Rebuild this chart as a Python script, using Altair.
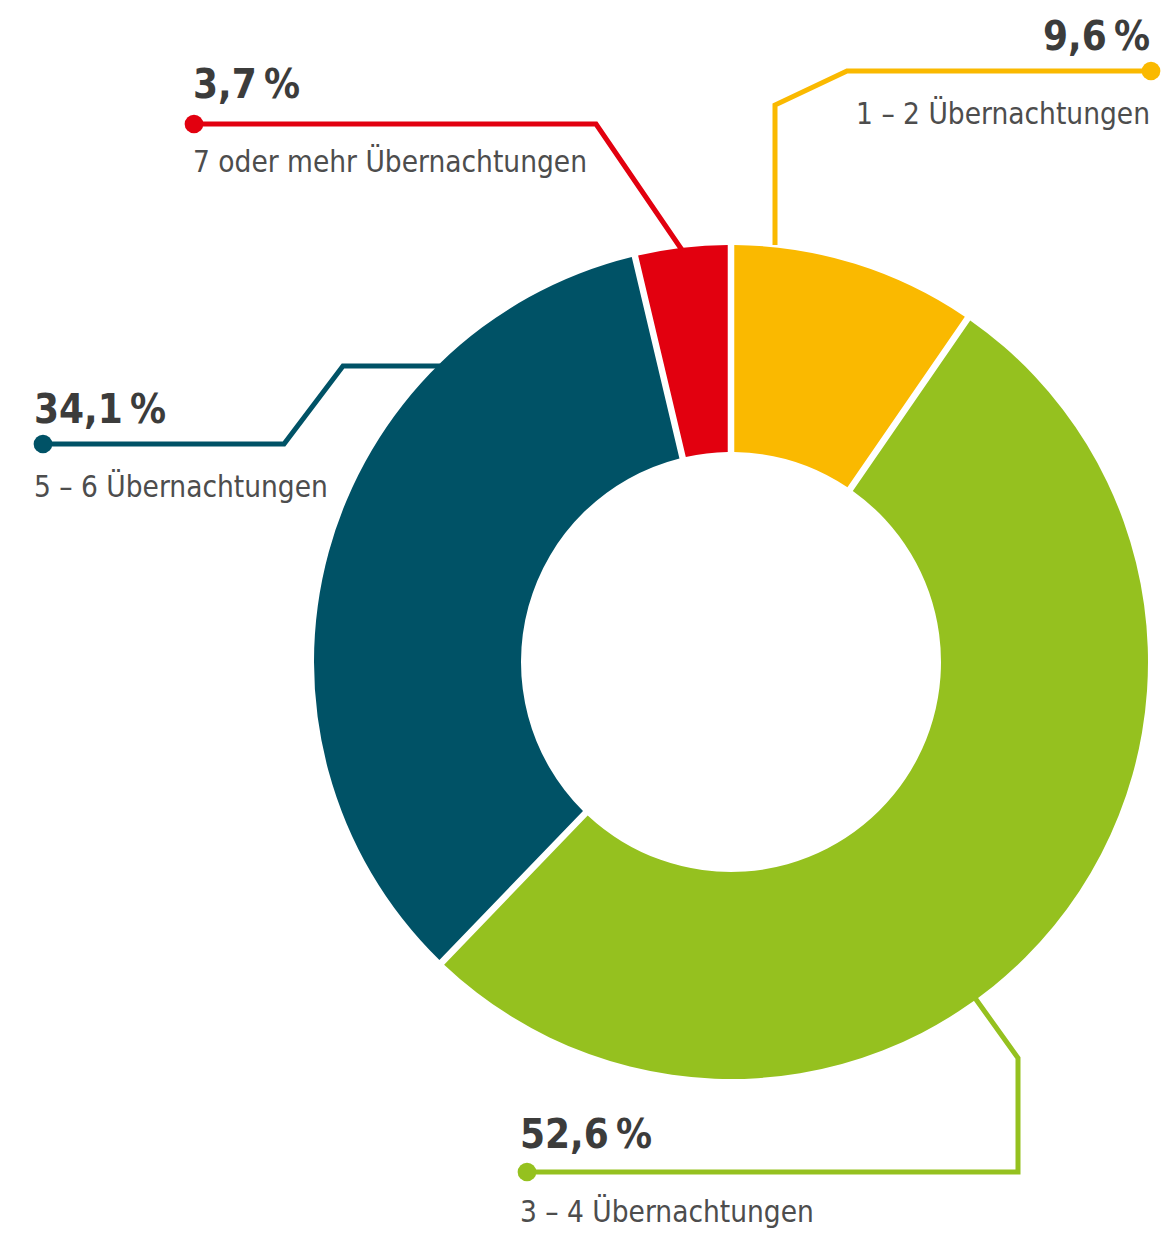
import altair as alt
import pandas as pd

# ---- data -------------------------------------------------------------
categories = ["1 – 2 Übernachtungen", "3 – 4 Übernachtungen",
              "5 – 6 Übernachtungen", "7 oder mehr Übernachtungen"]
shares = [9.6, 52.6, 34.1, 3.7]
share_labels = ["9,6\u2009%", "52,6\u2009%", "34,1\u2009%", "3,7\u2009%"]
colors = ["#FAB900", "#95C11F", "#005266", "#E2000F"]

# leader-line annotation paths (plot pixel coords, origin top-left)
leader_1_2 = [(767, 237), (767, 97), (839, 63), (1143, 63)]
leader_3_4 = [(967, 990), (1010, 1050), (1010, 1164), (519, 1164)]
leader_5_6 = [(432, 358), (335, 358), (276, 436), (35, 436)]
leader_7 = [(674, 242), (588, 116), (186, 116)]
leaders = [leader_1_2, leader_3_4, leader_5_6, leader_7]

# label anchor positions: (x, baseline of percent, baseline of name, align)
label_pos = [(1142, 42, 116, "right"), (512, 1140, 1214, "left"),
             (26, 415, 489, "left"), (185, 90, 164, "left")]

W, H = 1160, 1231
CX, CY = 723, 654

# ---- frames -----------------------------------------------------------
pie_df = pd.DataFrame({"cat": categories, "share": shares,
                       "order": list(range(len(categories)))})

line_rows = []
dot_rows = []
for cat, pts in zip(categories, leaders):
    for i, (x, y) in enumerate(pts):
        line_rows.append({"cat": cat, "x": x, "y": y, "i": i})
    dot_rows.append({"cat": cat, "x": pts[-1][0], "y": pts[-1][1]})
line_df = pd.DataFrame(line_rows)
dot_df = pd.DataFrame(dot_rows)

txt_rows = []
for cat, lab, (x, yb1, yb2, al) in zip(categories, share_labels, label_pos):
    txt_rows.append({"cat": cat, "t": lab, "x": x, "y": yb1, "kind": "pct", "al": al})
    txt_rows.append({"cat": cat, "t": cat, "x": x, "y": yb2, "kind": "name", "al": al})
txt_df = pd.DataFrame(txt_rows)

color_scale = alt.Scale(domain=categories, range=colors)
xs = alt.Scale(domain=[0, W], range=[0, W])
ys = alt.Scale(domain=[0, H], range=[0, H])

FONT = "DejaVu Sans Condensed, Liberation Sans Narrow, Noto Sans, sans-serif"

arc = alt.Chart(pie_df).mark_arc(
    outerRadius=417, innerRadius=210, padAngle=0.014
).encode(
    theta=alt.Theta("share:Q", stack=True),
    order=alt.Order("order:Q"),
    color=alt.Color("cat:N", scale=color_scale, legend=None),
    x=alt.value(CX), y=alt.value(CY),
)

lines = alt.Chart(line_df).mark_line(strokeWidth=5, strokeJoin="miter").encode(
    x=alt.X("x:Q", scale=xs, axis=None),
    y=alt.Y("y:Q", scale=ys, axis=None),
    color=alt.Color("cat:N", scale=color_scale, legend=None),
    order="i:Q",
    detail="cat:N",
)

dots = alt.Chart(dot_df).mark_circle(size=350, opacity=1).encode(
    x=alt.X("x:Q", scale=xs, axis=None),
    y=alt.Y("y:Q", scale=ys, axis=None),
    color=alt.Color("cat:N", scale=color_scale, legend=None),
)

def text_layer(kind, align, **kw):
    return alt.Chart(txt_df).transform_filter(
        (alt.datum.kind == kind) & (alt.datum.al == align)
    ).mark_text(align=align, baseline="alphabetic", font=FONT, **kw).encode(
        x=alt.X("x:Q", scale=xs, axis=None),
        y=alt.Y("y:Q", scale=ys, axis=None),
        text="t:N",
    )

pct_style = dict(fontSize=40, fontWeight="bold", color="#3C3C3B")
name_style = dict(fontSize=29.5, fontWeight="normal", color="#4D4D4D")

chart = alt.layer(
    arc, lines, dots,
    text_layer("pct", "left", **pct_style),
    text_layer("pct", "right", **pct_style),
    text_layer("name", "left", **name_style),
    text_layer("name", "right", **name_style),
).properties(
    width=W, height=H,
    autosize=alt.AutoSizeParams(type="none"),
    padding=0,
).configure_view(stroke=None)

chart.save("out.html", embed_options={"renderer": "svg", "actions": False})
